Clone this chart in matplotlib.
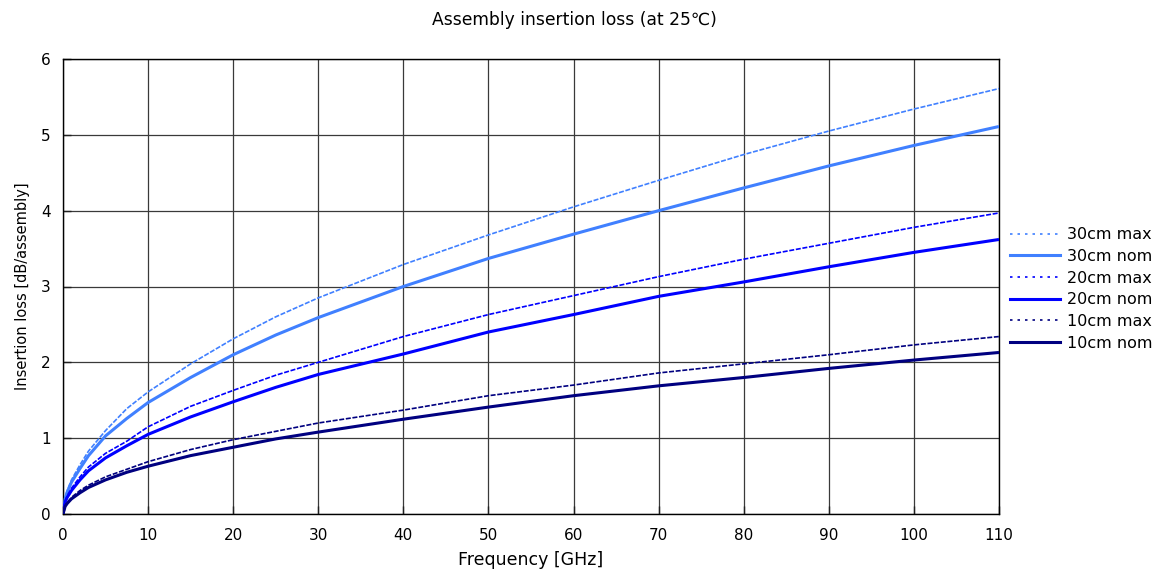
import matplotlib
matplotlib.use("Agg")
import matplotlib.pyplot as plt
from matplotlib.lines import Line2D

plt.rcParams['font.family'] = ['DejaVu Sans', 'Noto Sans CJK JP']

freq = [0, 0.25, 0.5, 1, 2, 3, 5, 7.5, 10, 15, 20, 25, 30, 40, 50, 60, 70, 80, 90, 100, 110]

loss_30_max = [0, 0.22, 0.31, 0.45, 0.65, 0.83, 1.10, 1.39, 1.61, 1.98, 2.31, 2.60, 2.85, 3.29, 3.68, 4.05, 4.40, 4.74, 5.05, 5.34, 5.61]
loss_30_nom = [0, 0.20, 0.29, 0.42, 0.60, 0.77, 1.03, 1.26, 1.47, 1.80, 2.10, 2.36, 2.59, 3.00, 3.37, 3.69, 4.00, 4.30, 4.59, 4.86, 5.11]
loss_20_max = [0, 0.17, 0.24, 0.34, 0.49, 0.62, 0.80, 0.96, 1.15, 1.42, 1.63, 1.83, 2.00, 2.34, 2.63, 2.88, 3.13, 3.36, 3.57, 3.78, 3.97]
loss_20_nom = [0, 0.16, 0.22, 0.31, 0.45, 0.57, 0.74, 0.90, 1.05, 1.28, 1.48, 1.67, 1.84, 2.11, 2.40, 2.63, 2.87, 3.06, 3.26, 3.45, 3.62]
loss_10_max = [0, 0.11, 0.15, 0.22, 0.31, 0.38, 0.49, 0.59, 0.69, 0.85, 0.98, 1.09, 1.20, 1.37, 1.56, 1.70, 1.86, 1.98, 2.10, 2.23, 2.34]
loss_10_nom = [0, 0.10, 0.14, 0.20, 0.28, 0.35, 0.45, 0.55, 0.63, 0.77, 0.88, 0.99, 1.08, 1.25, 1.41, 1.56, 1.69, 1.80, 1.92, 2.03, 2.13]

series_labels = ['30cm max', '30cm nom', '20cm max', '20cm nom', '10cm max', '10cm nom']
x_ticks = list(range(0, 111, 10))
y_ticks = list(range(0, 7))

c30 = '#4080ff'
c20 = '#0000ff'
c10 = '#000080'

fig = plt.figure(figsize=(11.64, 5.72), dpi=100)
ax = fig.add_axes([63/1164, 58/572, 936/1164, 455/572])

series = [
    (loss_30_max, c30, 'max'), (loss_30_nom, c30, 'nom'),
    (loss_20_max, c20, 'max'), (loss_20_nom, c20, 'nom'),
    (loss_10_max, c10, 'max'), (loss_10_nom, c10, 'nom'),
]
handles = []
for (vals, col, kind), lab in zip(series, series_labels):
    if kind == 'max':
        ax.plot(freq, vals, color=col, lw=1.2, ls=(0, (3, 1)), zorder=3)
        handles.append(Line2D([], [], color=col, lw=1.2, ls=(0, (1.5, 3))))
    else:
        ax.plot(freq, vals, color=col, lw=2.2, solid_capstyle='butt', zorder=3)
        handles.append(Line2D([], [], color=col, lw=2.2))

ax.set_xlim(0, 110)
ax.set_ylim(0, 6)
ax.set_xticks(x_ticks)
ax.set_yticks(y_ticks)
ax.tick_params(direction='in', length=6, width=1, labelsize=11, color='#202020', pad=10)
ax.tick_params(axis='y', pad=9)
ax.grid(True, color='#3a3a3a', lw=0.9)
ax.set_axisbelow(True)
for s in ax.spines.values():
    s.set_color('black')
    s.set_linewidth(1)

ax.set_xlabel('Frequency [GHz]', fontsize=12.5, labelpad=6)
ax.set_ylabel('Insertion loss [dB/assembly]', fontsize=10.5, labelpad=8)
fig.text(574/1164, 1 - 20/572, 'Assembly insertion loss (at 25℃)', ha='center', va='center', fontsize=12.3)

fig.legend(handles, series_labels, loc='center left', bbox_to_anchor=(1010/1164, 1 - 289/572),
           frameon=False, fontsize=11.5, handlelength=3.1, handletextpad=0.45, labelspacing=0.42,
           borderaxespad=0, borderpad=0)

fig.savefig('out.png', dpi=100)
